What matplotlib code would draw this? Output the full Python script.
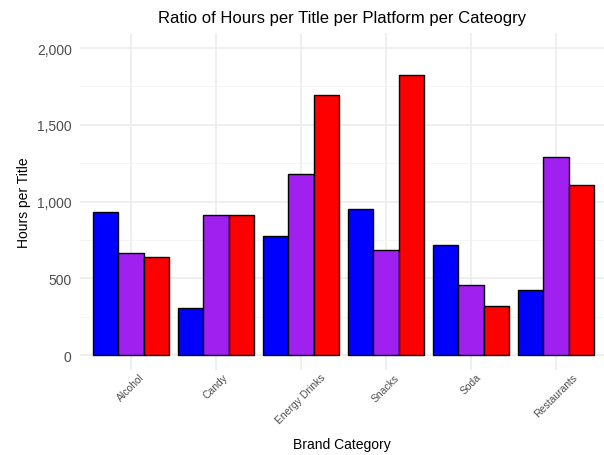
import matplotlib.pyplot as plt
import numpy as np
from matplotlib.ticker import FuncFormatter, MultipleLocator

plt.rcParams['font.family'] = ['Liberation Sans', 'DejaVu Sans']

categories = ["Alcohol", "Candy", "Energy Drinks", "Snacks", "Soda", "Restaurants"]
blue_vals = [932, 306, 775, 951, 719, 423]
purple_vals = [664, 912, 1179, 684, 458, 1288]
red_vals = [638, 915, 1694, 1824, 321, 1110]

series = [blue_vals, purple_vals, red_vals]
colors = ["#0000ff", "#a020f0", "#ff0000"]

fig = plt.figure(figsize=(6.04, 4.56), dpi=100)
ax = fig.add_axes([80 / 604, 0.1855, 524 / 604, 0.7405])

x = np.arange(1, len(categories) + 1)
w = 0.3
for i, vals in enumerate(series):
    ax.bar(x + (i - 1) * w, vals, width=w, color=colors[i], edgecolor="black",
           linewidth=1, zorder=3)

ax.set_xlim(0.4, 6.565)
ax.set_ylim(-100, 2100)
ax.yaxis.set_major_locator(MultipleLocator(500))
ax.yaxis.set_minor_locator(MultipleLocator(250))
ax.yaxis.set_major_formatter(FuncFormatter(lambda v, p: f"{int(v):,}"))
ax.set_xticks(x)
ax.set_xticklabels(categories, rotation=45, ha="center", fontsize=7.5, color="#4d4d4d")

ax.grid(True, which="major", color="#ebebeb", linewidth=1.1, zorder=0)
ax.grid(True, which="minor", axis="y", color="#f2f2f2", linewidth=0.6, zorder=0)
ax.tick_params(axis="both", which="both", length=0)
ax.tick_params(axis="x", pad=1)
ax.tick_params(axis="y", labelsize=10, labelcolor="#4d4d4d", pad=6)
for s in ax.spines.values():
    s.set_visible(False)

ax.set_ylabel("Hours per Title", fontsize=10)
fig.text(342 / 604, 1 - 445 / 456, "Brand Category", ha="center", va="center", fontsize=10)
fig.text(342 / 604, 1 - 18 / 456, "Ratio of Hours per Title per Platform per Cateogry",
         ha="center", va="center", fontsize=12)

fig.savefig("out.png", dpi=100)
